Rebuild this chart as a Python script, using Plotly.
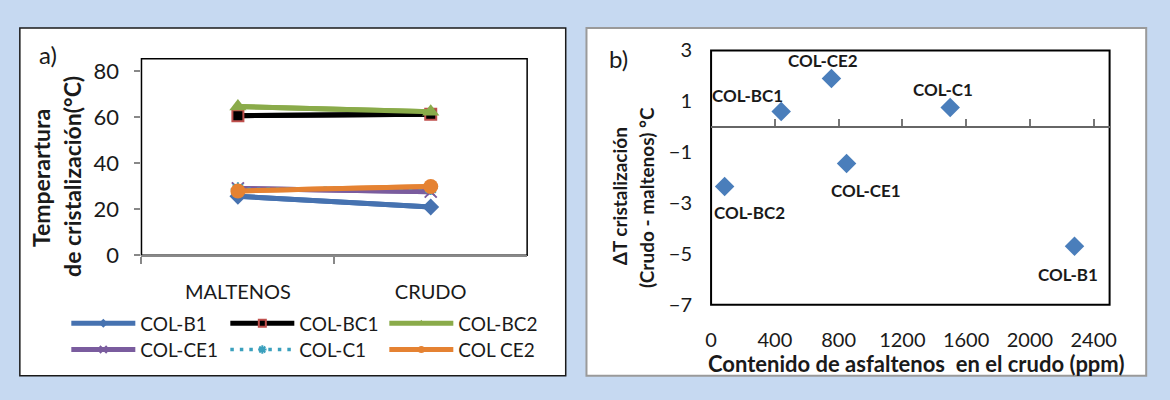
import plotly.graph_objects as go

# ---------------- data ----------------
categories = ["MALTENOS", "CRUDO"]

series_names = ["COL-B1", "COL-BC1", "COL-BC2", "COL-CE1", "COL-C1", "COL CE2"]
col_b1 = [25.6, 20.9]
col_bc1 = [60.6, 61.2]
col_bc2 = [64.6, 62.3]
col_ce1 = [29.0, 27.6]
col_c1 = [28.6, 29.3]
col_ce2 = [27.9, 29.8]

scatter_names = ["COL-B1", "COL-BC1", "COL-BC2", "COL-CE1", "COL-C1", "COL-CE2"]
asfaltenos_ppm = [2280, 440, 85, 850, 1500, 755]
delta_t = [-4.7, 0.6, -2.35, -1.45, 0.75, 1.9]

left_yticks = [0, 20, 40, 60, 80]
right_xticks = [0, 400, 800, 1200, 1600, 2000, 2400]
right_yticks = [-7, -5, -3, -1, 1, 3]

# ---------------- styles ----------------
W, H = 1170, 400
FONT = "Lato"
TXT = "#1a1a1a"

def px_x(p):
    return p / W

def px_y(p):
    return 1 - p / H

left_dom_x = [px_x(137), px_x(527)]
left_dom_y = [px_y(259), px_y(49)]
right_dom_x = [px_x(713), px_x(1116)]
right_dom_y = [px_y(312), px_y(40)]
ymin_r, ymax_r = -7, 3
zero_pos = right_dom_y[0] + (0 - ymin_r) / (ymax_r - ymin_r) * (right_dom_y[1] - right_dom_y[0])

styles = {
    "COL-B1": dict(line=dict(color="#4672b0", width=5),
                   marker=dict(symbol="diamond", size=13, color="#4672b0"), legend="legend"),
    "COL-BC1": dict(line=dict(color="#000000", width=5),
                    marker=dict(symbol="square", size=11, color="#000000",
                                line=dict(color="#c0504d", width=2)), legend="legend"),
    "COL-BC2": dict(line=dict(color="#8aab4a", width=5),
                    marker=dict(symbol="triangle-up", size=15, color="#8aab4a"), legend="legend"),
    "COL-CE1": dict(line=dict(color="#7a5c9e", width=5),
                    marker=dict(symbol="x-thin", size=12, color="#7a5c9e",
                                line=dict(color="#7a5c9e", width=2)), legend="legend2"),
    "COL-C1": dict(line=dict(color="#3aa0bd", width=3.5, dash="3.5px,6px"),
                   marker=dict(symbol="asterisk", size=12, color="#3aa0bd",
                               line=dict(color="#3aa0bd", width=2)), legend="legend2"),
    "COL CE2": dict(line=dict(color="#e58232", width=5),
                    marker=dict(symbol="circle", size=15, color="#e58232"), legend="legend2"),
}
legend_marker_size = 7

series_values = [col_b1, col_bc1, col_bc2, col_ce1, col_c1, col_ce2]

fig = go.Figure()

# legend carriers (same data, drawn underneath, small markers for the legend)
for name, vals in zip(series_names, series_values):
    st = styles[name]
    mk = dict(st["marker"])
    mk["size"] = legend_marker_size
    fig.add_trace(go.Scatter(
        x=categories, y=vals, name=name, mode="lines+markers",
        line=st["line"], marker=mk, legend=st["legend"],
        xaxis="x", yaxis="y", hoverinfo="skip",
    ))

for name, vals in zip(series_names, series_values):
    st = styles[name]
    fig.add_trace(go.Scatter(
        x=categories, y=vals, name=name, mode="lines+markers", showlegend=False,
        line=st["line"], marker=st["marker"],
        xaxis="x", yaxis="y", hoverinfo="skip",
    ))

fig.add_trace(go.Scatter(
    x=asfaltenos_ppm, y=delta_t, mode="markers", showlegend=False,
    marker=dict(symbol="diamond", size=15, color="#4a7ebb"),
    xaxis="x2", yaxis="y2", hoverinfo="skip",
))
# invisible trace to carry the zero-line axis
fig.add_trace(go.Scatter(
    x=asfaltenos_ppm, y=delta_t, mode="markers", showlegend=False,
    marker=dict(opacity=0), xaxis="x3", yaxis="y2", hoverinfo="skip",
))

# labels for scatter points
label_shifts = {
    "COL-B1": (-7, -28), "COL-BC1": (-34, 16), "COL-BC2": (25, -26),
    "COL-CE1": (19, -27), "COL-C1": (-7, 18), "COL-CE2": (-8, 18),
}
annotations = []
for name, xv, yv in zip(scatter_names, asfaltenos_ppm, delta_t):
    dx, dy = label_shifts[name]
    annotations.append(dict(
        x=xv, y=yv, xref="x2", yref="y2", text=name, showarrow=False,
        xanchor="center", yanchor="middle",
        xshift=dx, yshift=dy, font=dict(family=FONT, size=17, color=TXT, weight="bold"),
    ))

def paper_text(xp, yp, text, size, bold=False, angle=0):
    f = dict(family=FONT, size=size, color=TXT)
    if bold:
        f["weight"] = "bold"
    return dict(x=px_x(xp), y=px_y(yp), xref="paper", yref="paper", text=text,
                showarrow=False, xanchor="center", yanchor="middle", textangle=angle, font=f)

annotations += [
    paper_text(42, 44, "a)", 24),
    paper_text(619, 49, "b)", 24),
    paper_text(36, 177, "Temperartura", 23, True, -90),
    paper_text(66, 175, "de cristalización(°C)", 23, True, -90),
    paper_text(620, 196, "ΔT cristalización", 19, True, -90),
    paper_text(647, 197, "(Crudo - maltenos) °C", 19, True, -90),
    paper_text(920, 375, "Contenido de asfaltenos  en el crudo (ppm)", 22, True),
]

shapes = [
    dict(type="rect", xref="paper", yref="paper", x0=px_x(14), x1=px_x(566),
         y0=px_y(388), y1=px_y(16), fillcolor="white", line=dict(color="#1a1a1a", width=1.5),
         layer="below"),
    dict(type="rect", xref="paper", yref="paper", x0=px_x(587), x1=px_x(1153),
         y0=px_y(388), y1=px_y(16), fillcolor="white", line=dict(color="#9a9a9a", width=2),
         layer="below"),
    dict(type="rect", xref="x domain", yref="y domain", x0=0, x1=1, y0=0, y1=1,
         line=dict(color="#000000", width=1.5), layer="below"),
    dict(type="rect", xref="x2 domain", yref="y2 domain", x0=0, x1=1, y0=0, y1=1,
         line=dict(color="#000000", width=2), layer="below"),
]

legend_common = dict(orientation="h", xanchor="left", yanchor="middle",
                     entrywidth=80, entrywidthmode="pixels", itemwidth=64,
                     bgcolor="rgba(0,0,0,0)", font=dict(size=19, family=FONT, color=TXT),
                     itemclick=False, itemdoubleclick=False)

fig.update_layout(
    width=W, height=H,
    margin=dict(l=0, r=0, t=0, b=0),
    paper_bgcolor="#c6d9f1",
    plot_bgcolor="rgba(0,0,0,0)",
    font=dict(family=FONT, color=TXT),
    showlegend=True,
    xaxis=dict(domain=left_dom_x, anchor="y", type="category", range=[-0.5, 1.5],
               tickson="boundaries", ticks="outside", ticklen=7, tickcolor="#888888",
               tickwidth=2, showline=True, linecolor="#888888", linewidth=2,
               showgrid=False, zeroline=False, ticklabelstandoff=18,
               tickfont=dict(size=20, family=FONT, color=TXT)),
    yaxis=dict(domain=left_dom_y, anchor="x", range=[0, 85.3], tickvals=left_yticks,
               ticks="outside", ticklen=6, tickcolor="#888888", tickwidth=1.5,
               showline=False, showgrid=False, zeroline=False, ticklabelstandoff=11,
               tickfont=dict(size=22, family=FONT, color=TXT)),
    xaxis2=dict(domain=right_dom_x, anchor="y2", range=[0, 2500], tickvals=right_xticks,
                ticks="", showline=False, showgrid=False, zeroline=False,
                ticklabelstandoff=21, tickfont=dict(size=20, family=FONT, color=TXT)),
    xaxis3=dict(overlaying="x2", anchor="free", position=zero_pos, matches="x2",
                tickvals=right_xticks[1:], ticks="inside", ticklen=7, tickcolor="#777777",
                tickwidth=1.5, showticklabels=False, showline=True, linecolor="#666666",
                linewidth=1.5, showgrid=False, zeroline=False),
    yaxis2=dict(domain=right_dom_y, anchor="x2", range=[ymin_r, ymax_r], tickvals=right_yticks,
                ticks="", showline=False, showgrid=False, zeroline=False,
                ticklabelstandoff=18, tickfont=dict(size=20, family=FONT, color=TXT)),
    legend=dict(x=px_x(61), y=px_y(332), **legend_common),
    legend2=dict(x=px_x(61), y=px_y(360), **legend_common),
    annotations=annotations,
    shapes=shapes,
)

fig.write_html("out.html")
